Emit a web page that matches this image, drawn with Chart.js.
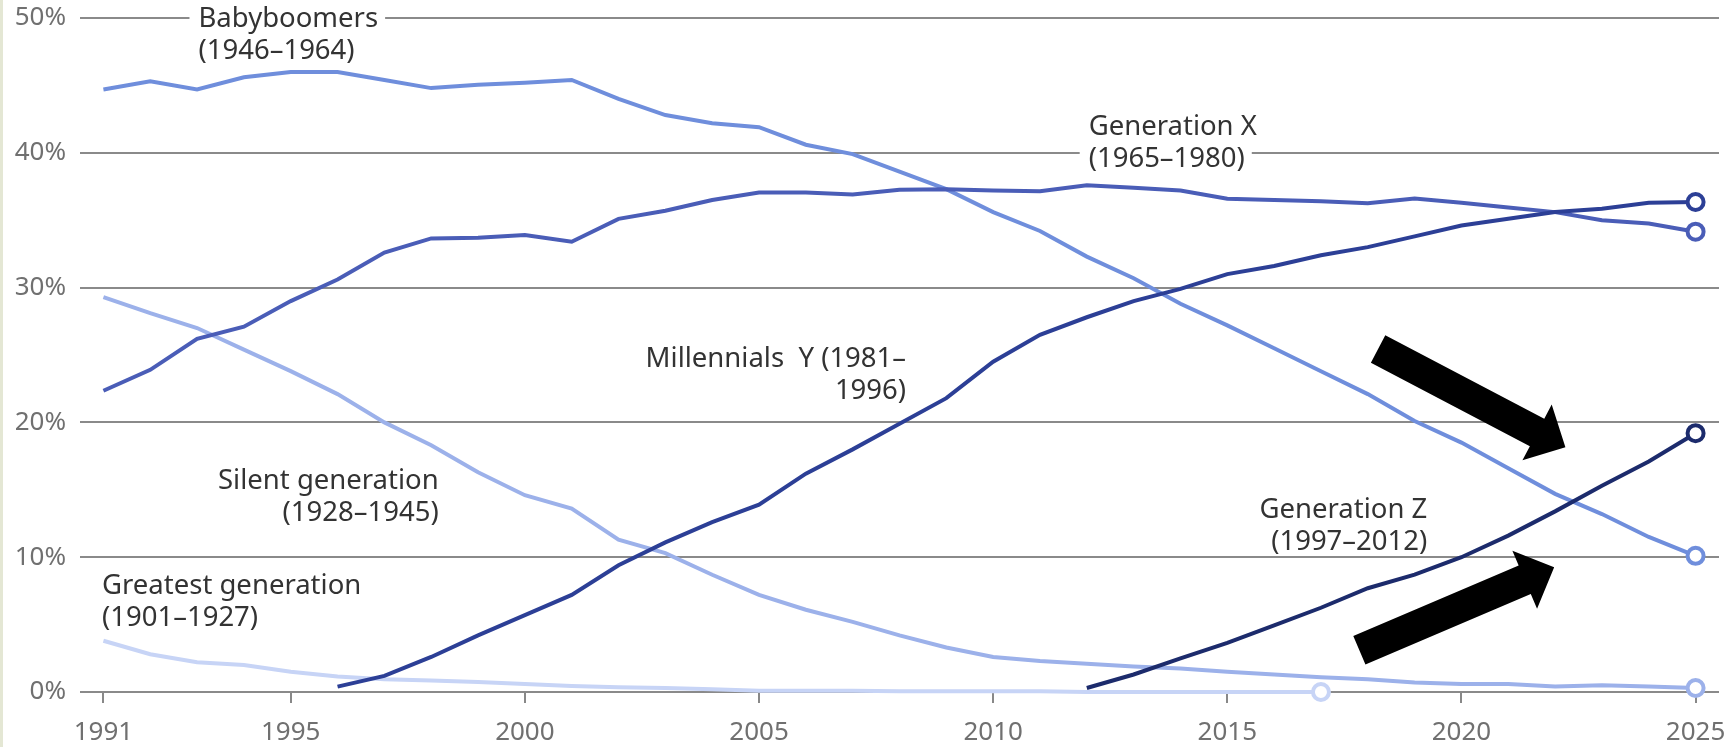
<!DOCTYPE html>
<html>
<head>
<meta charset="utf-8">
<script src="https://cdn.jsdelivr.net/npm/chart.js@4.4.1/dist/chart.umd.min.js"></script>
<style>
    html, body { margin: 0; padding: 0; background: #fff; }
    #wrap { position: relative; width: 1731px; height: 747px; }
    #edge { position: absolute; left: 0; top: 0; width: 3px; height: 747px; background: #e4e7d4; }
</style>
</head>
<body>
<div id="wrap">
    <canvas id="genChart" width="1731" height="747"></canvas>
    <div id="edge"></div>
</div>
<script>
// years on the x axis
const years = [1991, 1992, 1993, 1994, 1995, 1996, 1997, 1998, 1999, 2000,
               2001, 2002, 2003, 2004, 2005, 2006, 2007, 2008, 2009, 2010,
               2011, 2012, 2013, 2014, 2015, 2016, 2017, 2018, 2019, 2020,
               2021, 2022, 2023, 2024, 2025];
const tickYears = [1991, 1995, 2000, 2005, 2010, 2015, 2020, 2025];
const percentTicks = [0, 10, 20, 30, 40, 50];

// share of each generation (%), one value per year, null = not present
const greatest = [3.8, 2.8, 2.2, 2.0, 1.5, 1.15, 0.95, 0.85, 0.75, 0.6,
                  0.45, 0.35, 0.3, 0.2, 0.1, 0.1, 0.1, 0.05, 0.05, 0.05,
                  0.05, 0, 0, 0, 0, 0, 0, null, null, null,
                  null, null, null, null, null];
const silent = [29.3, 28.1, 27.0, 25.4, 23.8, 22.1, 20.0, 18.3, 16.3, 14.6,
                13.6, 11.3, 10.3, 8.7, 7.2, 6.1, 5.2, 4.2, 3.3, 2.6,
                2.3, 2.1, 1.9, 1.75, 1.5, 1.3, 1.1, 0.95, 0.7, 0.6,
                0.6, 0.4, 0.5, 0.4, 0.3];
const boomers = [44.7, 45.3, 44.7, 45.6, 46.0, 46.0, 45.4, 44.8, 45.05, 45.2,
                 45.4, 44.0, 42.8, 42.2, 41.9, 40.6, 39.9, 38.6, 37.3, 35.6,
                 34.2, 32.3, 30.7, 28.8, 27.2, 25.5, 23.8, 22.1, 20.1, 18.5,
                 16.6, 14.7, 13.2, 11.5, 10.1];
const genX = [22.35, 23.9, 26.2, 27.1, 29.0, 30.6, 32.6, 33.65, 33.7, 33.9,
              33.4, 35.1, 35.7, 36.5, 37.05, 37.05, 36.9, 37.25, 37.3, 37.2,
              37.15, 37.6, 37.4, 37.2, 36.6, 36.5, 36.4, 36.25, 36.6, 36.3,
              35.95, 35.6, 35.0, 34.75, 34.15];
const millennials = [null, null, null, null, null, 0.4, 1.2, 2.6, 4.2, 5.7,
                     7.2, 9.4, 11.1, 12.6, 13.9, 16.2, 18.0, 19.9, 21.8, 24.5,
                     26.5, 27.8, 29.0, 29.9, 31.0, 31.6, 32.4, 33.0, 33.8, 34.6,
                     35.1, 35.6, 35.85, 36.3, 36.35];
const genZ = [null, null, null, null, null, null, null, null, null, null,
              null, null, null, null, null, null, null, null, null, null,
              null, 0.3, 1.3, 2.5, 3.65, 4.95, 6.25, 7.7, 8.7, 10.0,
              11.6, 13.4, 15.3, 17.1, 19.2];

const FONT = 'Noto Sans';

const toPoints = (values) => years
    .map((year, i) => ({ x: year, y: values[i] }))
    .filter(p => p.y !== null);

const lineSet = (label, values, color) => ({
    label: label,
    data: toPoints(values),
    borderColor: color,
    borderWidth: 4,
    tension: 0,
    clip: false,
    pointRadius: ctx => ctx.dataIndex === ctx.dataset.data.length - 1 ? 8 : 0,
    pointBorderWidth: 4,
    pointBorderColor: color,
    pointBackgroundColor: '#fff',
});

// text labels next to the lines (anchored in data units)
const notes = [
    { lines: ['Babyboomers', '(1946–1964)'], year: 1993.03, pct: 49.32, align: 'left', boxed: 0 },
    { lines: ['Generation X', '(1965–1980)'], year: 2012.04, pct: 41.30, align: 'left', boxed: 1 },
    { lines: ['Millennials  Y (1981–', '1996)'], year: 2008.14, pct: 24.10, align: 'right' },
    { lines: ['Silent generation', '(1928–1945)'], year: 1998.16, pct: 15.07, align: 'right' },
    { lines: ['Greatest generation', '(1901–1927)'], year: 1990.97, pct: 7.27, align: 'left' },
    { lines: ['Generation Z', '(1997–2012)'], year: 2019.27, pct: 12.91, align: 'right' },
];

// the two black arrows (tail -> tip, data units)
const arrows = [
    { from: [2018.22, 25.44], to: [2022.22, 18.15] },
    { from: [2017.82, 3.1], to: [2021.98, 9.25] },
];

const drawArrow = (ctx, x0, y0, x1, y1) => {
    const shaftW = 31, headW = 63, headL = 32;
    const len = Math.hypot(x1 - x0, y1 - y0);
    const ux = (x1 - x0) / len, uy = (y1 - y0) / len;
    const nx = -uy, ny = ux;
    const bx = x1 - ux * headL, by = y1 - uy * headL;
    ctx.beginPath();
    ctx.moveTo(x0 + nx * shaftW / 2, y0 + ny * shaftW / 2);
    ctx.lineTo(bx + nx * shaftW / 2, by + ny * shaftW / 2);
    ctx.lineTo(bx + nx * headW / 2, by + ny * headW / 2);
    ctx.lineTo(x1, y1);
    ctx.lineTo(bx - nx * headW / 2, by - ny * headW / 2);
    ctx.lineTo(bx - nx * shaftW / 2, by - ny * shaftW / 2);
    ctx.lineTo(x0 - nx * shaftW / 2, y0 - ny * shaftW / 2);
    ctx.closePath();
    ctx.fillStyle = '#000';
    ctx.fill();
};

const notesPlugin = {
    id: 'notes',
    afterDraw(chart) {
        const { ctx, scales: { x, y } } = chart;
        ctx.save();
        ctx.font = `27.5px "${FONT}"`;
        ctx.textBaseline = 'alphabetic';
        notes.forEach(note => {
            const px = x.getPixelForValue(note.year);
            const py = y.getPixelForValue(note.pct);
            ctx.textAlign = note.align;
            note.lines.forEach((line, i) => {
                const ly = py + i * 32;
                if (note.boxed === i) {
                    const w = ctx.measureText(line).width;
                    const left = note.align === 'left' ? px : px - w;
                    ctx.fillStyle = '#fff';
                    ctx.fillRect(left - 9, ly - 24, w + 16, 32);
                }
                ctx.strokeStyle = '#fff';
                ctx.lineWidth = 4;
                ctx.lineJoin = 'round';
                ctx.strokeText(line, px, ly);
                ctx.fillStyle = '#333';
                ctx.fillText(line, px, ly);
            });
        });
        arrows.forEach(a => {
            drawArrow(ctx,
                x.getPixelForValue(a.from[0]), y.getPixelForValue(a.from[1]),
                x.getPixelForValue(a.to[0]), y.getPixelForValue(a.to[1]));
        });
        ctx.restore();
    }
};

new Chart(document.getElementById('genChart'), {
    type: 'line',
    data: {
        datasets: [
            lineSet('Generation Z (1997–2012)', genZ, '#1c2b6c'),
            lineSet('Millennials Y (1981–1996)', millennials, '#2c3f96'),
            lineSet('Generation X (1965–1980)', genX, '#4a5db7'),
            lineSet('Babyboomers (1946–1964)', boomers, '#6f8edc'),
            lineSet('Silent generation (1928–1945)', silent, '#9cb1ea'),
            lineSet('Greatest generation (1901–1927)', greatest, '#c7d4f6'),
        ],
    },
    options: {
        responsive: false,
        animation: false,
        layout: { padding: { top: 18, right: 12, left: 0, bottom: 0 } },
        plugins: {
            legend: { display: false },
            tooltip: { enabled: false },
        },
        scales: {
            x: {
                type: 'linear',
                min: 1990.5,
                max: 2025.5,
                afterBuildTicks: scale => { scale.ticks = tickYears.map(v => ({ value: v })); },
                afterFit: scale => {
                    scale.height = 55;
                    scale.paddingLeft = 0;
                    scale.paddingRight = 0;
                },
                ticks: {
                    callback: v => String(v),
                    color: '#707070',
                    font: { family: FONT, size: 26 },
                    padding: 14,
                    maxRotation: 0,
                    autoSkip: false,
                },
                grid: { drawOnChartArea: false, drawTicks: true, tickLength: 11, color: '#888', lineWidth: 2 },
                border: { display: false },
            },
            y: {
                min: 0,
                max: 50,
                afterBuildTicks: scale => { scale.ticks = percentTicks.map(v => ({ value: v })); },
                afterFit: scale => {
                    scale.width = 80;
                    scale.paddingTop = 0;
                    scale.paddingBottom = 0;
                },
                ticks: {
                    callback: v => v + '%',
                    color: '#707070',
                    font: { family: FONT, size: 26 },
                    padding: 14,
                },
                grid: { drawTicks: false, color: '#8a8a8a', lineWidth: 2 },
                border: { display: false },
            },
        },
    },
    plugins: [notesPlugin],
});
</script>
</body>
</html>
